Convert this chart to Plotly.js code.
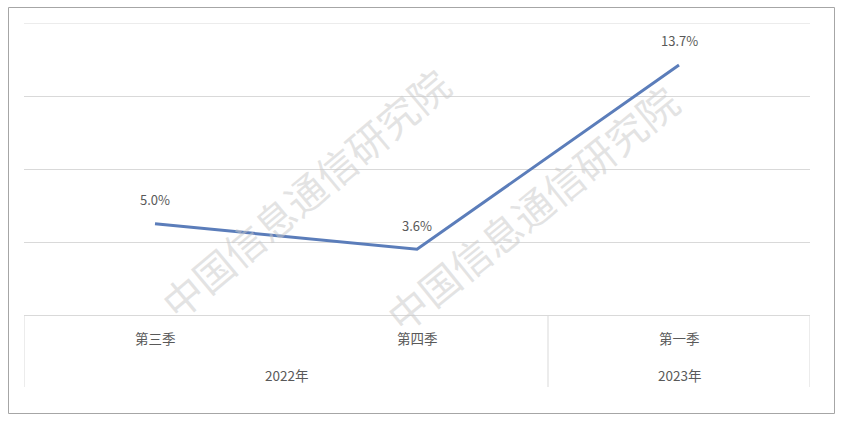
<!DOCTYPE html>
<html>
<head>
<meta charset="utf-8">
<script src="https://cdn.plot.ly/plotly-3.0.1.min.js"></script>
<style>html,body{margin:0;padding:0;background:#fff;}#chart{width:842px;height:423px;}</style>
</head>
<body>
<div id="chart"></div>
<script>
// Data
const quarters = ["第三季", "第四季", "第一季"];
const years = ["2022年", "2023年"];
const yearSpan = [[0, 1], [2, 2]]; // index range of quarters per year
const values = [5.0, 3.6, 13.7];
const valueLabels = ["5.0%", "3.6%", "13.7%"];
const watermark = "中国信息通信研究院";

const W = 842, H = 423;
const L = 24, R = 32, T = 23, B = 108;
const plotW = W - L - R, plotH = H - T - B;
const px = x => (x - L) / plotW;           // pixel -> paper x
const py = y => (H - B - y) / plotH;       // pixel -> paper y

const xIdx = quarters.map((q, i) => i);
const textColor = "#595959";
const cjk = "'Microsoft YaHei','Noto Sans CJK SC','Noto Sans',sans-serif";

const trace = {
  x: xIdx, y: values, type: "scatter", mode: "lines",
  line: {color: "#5b7dba", width: 3},
  hoverinfo: "skip", cliponaxis: false
};

const annotations = [];
// value labels
xIdx.forEach((x, i) => annotations.push({
  x: x, y: values[i], xref: "x", yref: "y", text: valueLabels[i], showarrow: false,
  yshift: 24, font: {size: 13, color: textColor, family: cjk}
}));
// quarter labels
xIdx.forEach((x, i) => annotations.push({
  x: x, y: py(338), xref: "x", yref: "paper", yanchor: "middle", text: quarters[i], showarrow: false,
  font: {size: 13.5, color: textColor, family: cjk}
}));
// year labels
years.forEach((yr, j) => annotations.push({
  x: (yearSpan[j][0] + yearSpan[j][1]) / 2, y: py(375), xref: "x", yref: "paper", yanchor: "middle",
  text: yr, showarrow: false, font: {size: 13.5, color: textColor, family: cjk}
}));
// watermarks
[[305, 193, -40], [532, 208, -39]].forEach(w => annotations.push({
  x: px(w[0]), y: py(w[1]), xref: "paper", yref: "paper", xanchor: "center", yanchor: "middle",
  text: watermark, showarrow: false,
  textangle: w[2], font: {size: 40, color: "rgba(200,200,200,0.5)", family: "'Noto Sans CJK SC',sans-serif"}
}));

const lineC = "#d9d9d9";
const shapes = [];
// top gridline (range edge)
shapes.push({type: "line", xref: "paper", yref: "y", x0: 0, x1: 1, y0: 16, y1: 16,
  line: {color: lineC, width: 1}});
// category table vertical lines: left edge, year boundary, right edge
const bounds = [-0.5, yearSpan[0][1] + 0.5, quarters.length - 0.5];
bounds.forEach(b => shapes.push({
  type: "line", xref: "x", yref: "paper", x0: b, x1: b, y0: 0, y1: py(387),
  line: {color: lineC, width: 1}
}));
// outer border
shapes.push({
  type: "rect", xref: "paper", yref: "paper", x0: px(8.5), x1: px(834.5), y0: py(7.5), y1: py(413.5),
  line: {color: "#a6a6a6", width: 1}, layer: "above"
});

const layout = {
  width: W, height: H,
  margin: {l: L, r: R, t: T, b: B, pad: 0},
  paper_bgcolor: "#fff", plot_bgcolor: "#fff",
  showlegend: false,
  xaxis: {range: [-0.5, quarters.length - 0.5], showgrid: false, zeroline: false,
          showticklabels: false, showline: false, fixedrange: true},
  yaxis: {range: [0, 16], dtick: 4, tick0: 0, showgrid: true, gridcolor: lineC, gridwidth: 1,
          zeroline: true, zerolinecolor: lineC, zerolinewidth: 1,
          showticklabels: false, showline: false, fixedrange: true},
  annotations: annotations,
  shapes: shapes
};

Plotly.newPlot("chart", [trace], layout, {displayModeBar: false, staticPlot: true});
</script>
</body>
</html>
